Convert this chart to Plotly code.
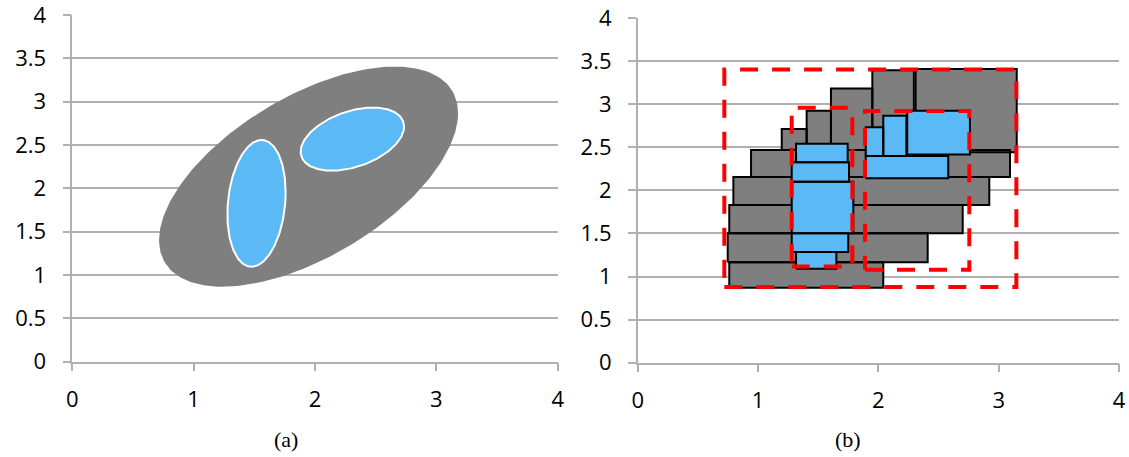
import numpy as np
import plotly.graph_objects as go

# ---------------- axis ticks ----------------
x_ticks = [0, 1, 2, 3, 4]
x_tick_text = ["0", "1", "2", "3", "4"]
y_ticks = [0, 0.5, 1, 1.5, 2, 2.5, 3, 3.5, 4]
y_tick_text = ["0", "0.5", "1", "1.5", "2", "2.5", "3", "3.5", "4"]

# ---------------- panel (a): ellipses ----------------
ell_names = ["cluster", "sub-cluster 1", "sub-cluster 2"]
ell_cx = [1.947, 1.518, 2.308]
ell_cy = [2.135, 1.827, 2.568]
ell_rx = [1.232, 0.240, 0.426]
ell_ry = [1.270, 0.731, 0.364]
ell_phase_deg = [54.8, 80.0, 66.6]
ell_fill = ["#7F7F7F", "#5BB9F5", "#5BB9F5"]
ell_line = ["rgba(0,0,0,0)", "#FFFFFF", "#FFFFFF"]

# ---------------- panel (b): rectangles ----------------
gray_x0 = [0.761, 0.748, 0.761, 0.795, 0.942, 1.197, 1.404, 1.606, 1.950, 2.310]
gray_x1 = [2.041, 2.410, 2.701, 2.922, 3.094, 1.404, 1.606, 1.950, 2.295, 3.150]
gray_y0 = [0.869, 1.167, 1.503, 1.831, 2.155, 2.468, 2.468, 2.468, 2.468, 2.441]
gray_y1 = [1.167, 1.503, 1.831, 2.155, 2.468, 2.711, 2.924, 3.183, 3.395, 3.407]

blue_x0 = [1.316, 1.280, 1.280, 1.280, 1.316, 1.895, 1.895, 2.041, 2.240]
blue_x1 = [1.651, 1.750, 1.792, 1.756, 1.745, 2.581, 2.041, 2.233, 2.761]
blue_y0 = [1.089, 1.286, 1.503, 2.101, 2.326, 2.140, 2.399, 2.399, 2.415]
blue_y1 = [1.286, 1.503, 2.101, 2.326, 2.541, 2.399, 2.731, 2.866, 2.924]

red_x0 = [0.720, 1.280, 1.889]
red_x1 = [3.147, 1.784, 2.756]
red_y0 = [0.877, 1.116, 1.078]
red_y1 = [3.403, 2.958, 2.920]

panel_labels = ["(a)", "(b)"]

GRAY = "#7F7F7F"
BLUE = "#5BB9F5"
RED = "#FF0000"
GRID = "#B0B0B0"


def rect_path(x0s, x1s, y0s, y1s):
    xs, ys = [], []
    for a, b, c, d in zip(x0s, x1s, y0s, y1s):
        xs += [a, b, b, a, a, None]
        ys += [c, c, d, d, c, None]
    return xs, ys


fig = go.Figure()

# panel (a)
t = np.linspace(0, 2 * np.pi, 241)
for i in range(len(ell_names)):
    ph = np.deg2rad(ell_phase_deg[i])
    ex = ell_cx[i] + ell_rx[i] * np.cos(t)
    ey = ell_cy[i] + ell_ry[i] * np.cos(t - ph)
    fig.add_trace(go.Scatter(
        x=ex, y=ey, mode="lines", fill="toself", fillcolor=ell_fill[i],
        line=dict(color=ell_line[i], width=2 if i > 0 else 0),
        xaxis="x", yaxis="y", hoverinfo="skip", name=ell_names[i]))

# panel (b)
gx, gy = rect_path(gray_x0, gray_x1, gray_y0, gray_y1)
fig.add_trace(go.Scatter(x=gx, y=gy, mode="lines", fill="toself", fillcolor=GRAY,
                         line=dict(color="#000000", width=2), xaxis="x2", yaxis="y2",
                         hoverinfo="skip", name="cells"))
bx, by = rect_path(blue_x0, blue_x1, blue_y0, blue_y1)
fig.add_trace(go.Scatter(x=bx, y=by, mode="lines", fill="toself", fillcolor=BLUE,
                         line=dict(color="#000000", width=2), xaxis="x2", yaxis="y2",
                         hoverinfo="skip", name="sub cells"))
rx, ry = rect_path(red_x0, red_x1, red_y0, red_y1)
fig.add_trace(go.Scatter(x=rx, y=ry, mode="lines",
                         line=dict(color=RED, width=4, dash="18px,14px"),
                         xaxis="x2", yaxis="y2", hoverinfo="skip", name="bounds"))

W, H = 1129, 457
tick_font = dict(family="Open Sans, sans-serif", size=22, color="#000000")


def xaxis_cfg(left_px, right_px):
    return dict(domain=[left_px / W, right_px / W], range=[0, 4], automargin=False,
                tickvals=x_ticks, ticktext=x_tick_text, showgrid=False,
                zeroline=False, showline=True, linecolor=GRID, linewidth=1.5,
                ticks="outside", ticklen=8, tickwidth=1.5, tickcolor=GRID,
                tickfont=tick_font, ticklabelstandoff=9, ticklabeloverflow="allow",
                fixedrange=True)


def yaxis_cfg(top_px, bottom_px, anchor):
    return dict(domain=[1 - bottom_px / H, 1 - top_px / H], range=[0, 4], automargin=False,
                tickvals=y_ticks, ticktext=y_tick_text, showgrid=True,
                gridcolor=GRID, gridwidth=1.5, zeroline=False, showline=True,
                linecolor=GRID, linewidth=1.5, ticks="outside", ticklen=8,
                tickwidth=1.5, tickcolor=GRID, tickfont=tick_font,
                ticklabelstandoff=12, ticklabeloverflow="allow", anchor=anchor,
                fixedrange=True)


label_x_px = [286, 848]
fig.update_layout(
    width=W, height=H, margin=dict(l=0, r=0, t=0, b=0, autoexpand=False),
    paper_bgcolor="#FFFFFF", plot_bgcolor="#FFFFFF", showlegend=False,
    xaxis=dict(**xaxis_cfg(72.3, 557.7), anchor="y"),
    yaxis=yaxis_cfg(15, 361.7, "x"),
    xaxis2=dict(**xaxis_cfg(637.7, 1119), anchor="y2"),
    yaxis2=yaxis_cfg(18, 362.7, "x2"),
    annotations=[
        dict(text=lab, x=px / W, y=1 - 439 / H, xref="paper", yref="paper",
             xanchor="center", yanchor="middle", showarrow=False,
             font=dict(family="Liberation Serif, serif", size=22, color="#000000"))
        for lab, px in zip(panel_labels, label_x_px)
    ],
)

fig.write_html("out.html", config={"displayModeBar": False},
               post_script="document.body.style.margin='0px';document.body.style.overflow='hidden';")
